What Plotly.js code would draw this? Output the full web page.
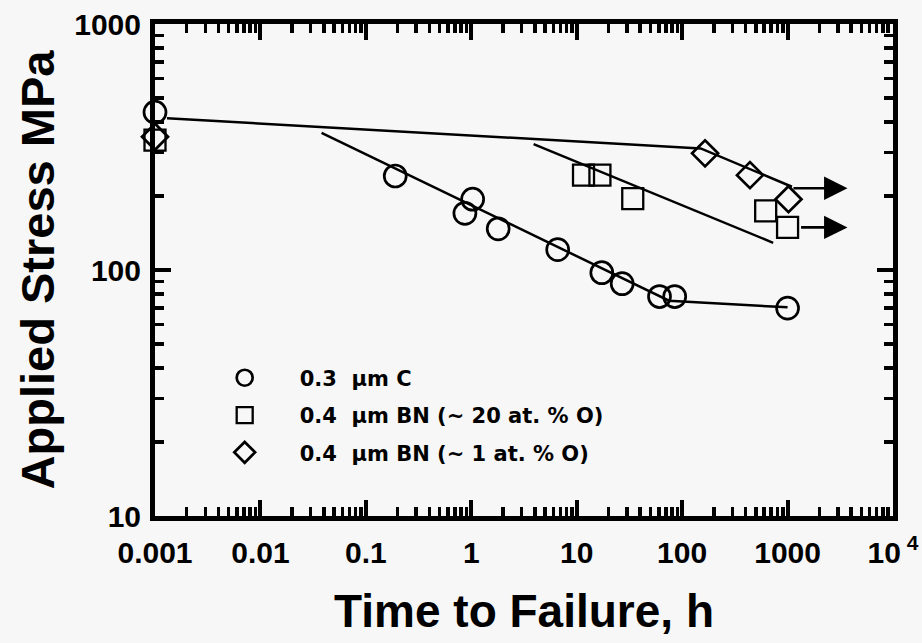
<!DOCTYPE html>
<html>
<head>
<meta charset="utf-8">
<script src="https://cdn.plot.ly/plotly-3.0.1.min.js"></script>
<style>
  html, body { margin: 0; padding: 0; background: #f7f7f7; }
  #chart { width: 922px; height: 643px; }
</style>
</head>
<body>
<div id="chart"></div>
<script>
// ---- data ----
const timeC      = [0.001, 0.19, 0.87, 1.03, 1.8, 6.6, 17.3, 27, 61, 85, 1000];
const stressC    = [438, 241, 170, 194, 147, 121, 97.5, 88, 78, 78, 70];
const timeBN20   = [0.001, 11.6, 16.6, 34, 620, 1000];
const stressBN20 = [337, 243, 243, 195, 174, 149];
const timeBN1    = [0.001, 165, 440, 1020];
const stressBN1  = [348, 298, 243, 194];

// fitted trend lines
const fitCTime      = [0.038, 75, 1000];
const fitCStress    = [361, 75, 70.5];
const fitBN20Time   = [3.9, 730];
const fitBN20Stress = [325, 129];
const fitBN1Time    = [0.0013, 150, 1100];
const fitBN1Stress  = [414, 312, 218];

// run-out arrows
const arrowStartTime = [1100, 1300];
const arrowEndTime   = [3700, 3700];
const arrowStress    = [215, 149];

// legend names
const seriesNames = ['0.3  \u03bcm C', '0.4  \u03bcm BN (~ 20 at. % O)', '0.4  \u03bcm BN (~ 1 at. % O)'];

// tick labels
const xTickVals = [0.001, 0.01, 0.1, 1, 10, 100, 1000, 10000];
const xTickText = ['0.001', '0.01', '0.1', '1', '10', '100', '1000', '10<sup> 4</sup>'];
const yTickVals = [10, 100, 1000];
const yTickText = ['10', '100', '1000'];

function minorTicks(lo, hi) {
  const out = [];
  for (let e = lo; e < hi; e++) for (let m = 2; m <= 9; m++) out.push(m * Math.pow(10, e));
  return out;
}
const xMinor = minorTicks(-3, 4);
const yMinor = minorTicks(1, 3);

const FONT = 'Liberation Sans, Arial, sans-serif';
const FONT_LEG = 'DejaVu Sans, Liberation Sans, sans-serif';
const lineStyle = {color: '#000', width: 2.5};

const traces = [
  {x: fitCTime, y: fitCStress, mode: 'lines', line: lineStyle, showlegend: false, hoverinfo: 'skip'},
  {x: fitBN20Time, y: fitBN20Stress, mode: 'lines', line: lineStyle, showlegend: false, hoverinfo: 'skip'},
  {x: fitBN1Time, y: fitBN1Stress, mode: 'lines', line: lineStyle, showlegend: false, hoverinfo: 'skip'},
  {x: timeC, y: stressC, mode: 'markers', name: seriesNames[0], legendgroup: 'a', cliponaxis: false,
   marker: {symbol: 'circle-open', size: 22, color: '#000', line: {width: 2.7, color: '#000'}}},
  {x: timeBN20, y: stressBN20, mode: 'markers', name: seriesNames[1], legendgroup: 'b', cliponaxis: false,
   marker: {symbol: 'square-open', size: 21, color: '#000', line: {width: 2.3, color: '#000'}}},
  {x: timeBN1, y: stressBN1, mode: 'markers', name: seriesNames[2], legendgroup: 'c', cliponaxis: false,
   marker: {symbol: 'diamond-open', size: 20, color: '#000', line: {width: 2.7, color: '#000'}}}
];

const annotations = arrowStress.map((s, i) => ({
  x: Math.log10(arrowEndTime[i]), y: Math.log10(s),
  ax: Math.log10(arrowStartTime[i]), ay: Math.log10(s),
  xref: 'x', yref: 'y', axref: 'x', ayref: 'y',
  text: '', showarrow: true, arrowhead: 2, arrowsize: 1.8, arrowwidth: 2.6, arrowcolor: '#000', standoff: 0
}));

const axisCommon = {
  type: 'log', tickmode: 'array', ticks: 'inside', ticklen: 16, tickwidth: 4, tickcolor: '#000',
  showline: true, linewidth: 5, linecolor: '#000', mirror: 'ticks', showgrid: false, zeroline: false,
  tickfont: {family: FONT, size: 30, color: '#000', weight: 'bold'}
};

const layout = {
  width: 922, height: 643,
  margin: {l: 155, r: 29, t: 24, b: 127},
  paper_bgcolor: '#f7f7f7', plot_bgcolor: '#f7f7f7',
  font: {family: FONT, color: '#000'},
  xaxis: Object.assign({}, axisCommon, {
    range: [-3, 4], tickvals: xTickVals, ticktext: xTickText, ticklabelstandoff: 6,
    minor: {tickmode: 'array', tickvals: xMinor, ticks: 'inside', ticklen: 9, tickwidth: 3.5, tickcolor: '#000', showgrid: false},
    title: {text: 'Time to Failure, h', font: {family: FONT, size: 46, weight: 'bold', color: '#000'}, standoff: 28}
  }),
  yaxis: Object.assign({}, axisCommon, {
    range: [1, 3], tickvals: yTickVals, ticktext: yTickText, ticklabelstandoff: 3,
    minor: {tickmode: 'array', tickvals: yMinor, ticks: 'inside', ticklen: 9, tickwidth: 3.5, tickcolor: '#000', showgrid: false},
    title: {text: 'Applied Stress MPa', font: {family: FONT, size: 47, weight: 'bold', color: '#000'}, standoff: 6}
  }),
  legend: {
    x: 0.047, y: 0.322, xanchor: 'left', yanchor: 'top', bgcolor: 'rgba(0,0,0,0)',
    font: {family: FONT_LEG, size: 21, color: '#000', weight: 'bold'},
    itemwidth: 100, tracegroupgap: 7
  },
  annotations: annotations
};

Plotly.newPlot('chart', traces, layout, {displayModeBar: false, staticPlot: true});
</script>
</body>
</html>
